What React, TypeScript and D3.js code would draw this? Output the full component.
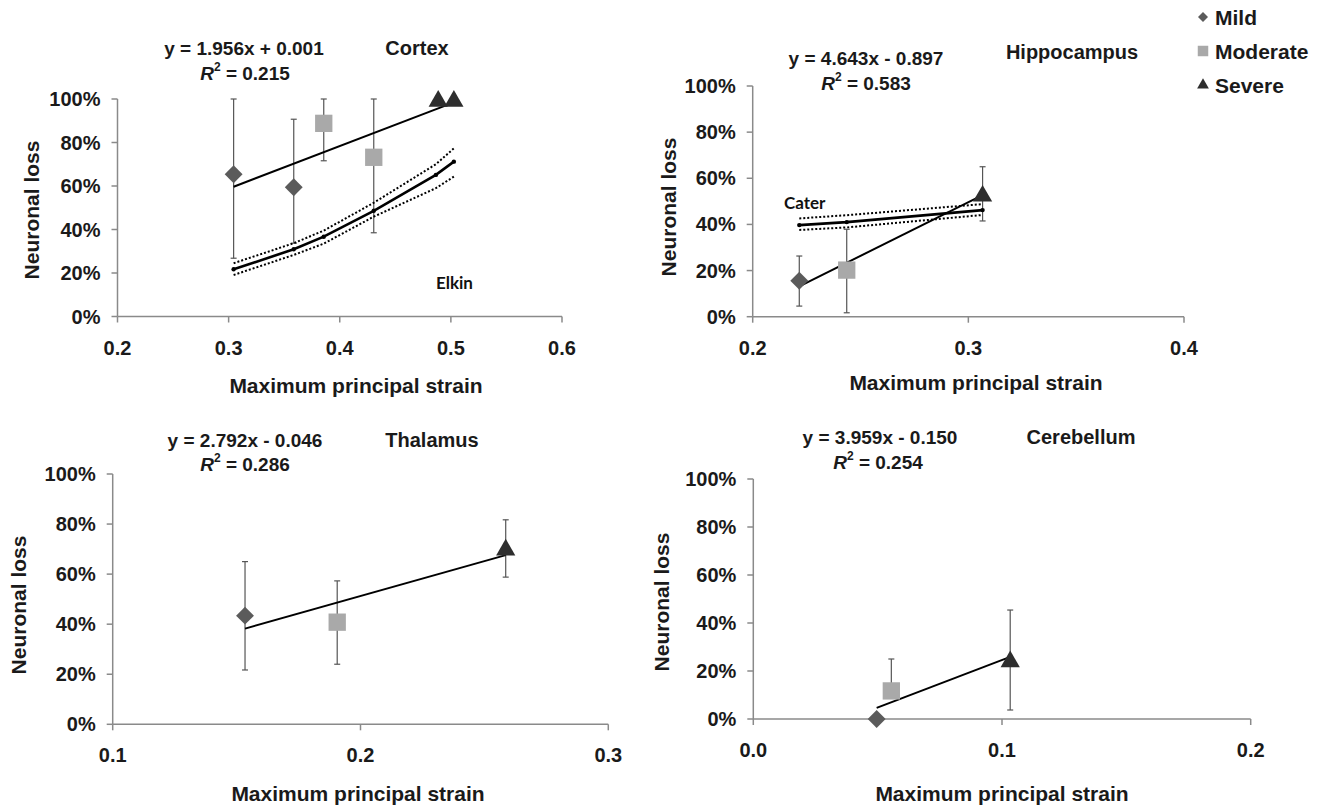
import React from 'react'
import * as d3 from 'd3'

const FONT = '"Liberation Sans", Arial, Helvetica, sans-serif'
const LABEL_FONT = 'Lato, "Open Sans", sans-serif'

const MILD = '#5b5b5b'
const MODERATE = '#a9a9a9'
const SEVERE = '#2e2e2e'

// --- data (x = max principal strain, y = neuronal loss fraction)
const cortexMild = [
  { x: 0.3045, y: 0.654, lo: 0.268, hi: 1.0 },
  { x: 0.3586, y: 0.594, lo: 0.337, hi: 0.907 }
]
const cortexModerate = [
  { x: 0.3856, y: 0.888, lo: 0.716, hi: 1.0 },
  { x: 0.4306, y: 0.732, lo: 0.385, hi: 1.0 }
]
const cortexSevere = [
  { x: 0.4886, y: 0.99 },
  { x: 0.5027, y: 0.99 }
]
const elkinX = [0.3045, 0.3586, 0.3856, 0.4306, 0.4865, 0.5027]
const elkinMean = [0.217, 0.309, 0.367, 0.486, 0.651, 0.712]
const elkinUpper = [0.245, 0.337, 0.395, 0.523, 0.7, 0.773]
const elkinLower = [0.191, 0.283, 0.335, 0.459, 0.59, 0.643]

const hippoMild = [{ x: 0.2216, y: 0.156, lo: 0.046, hi: 0.263 }]
const hippoModerate = [{ x: 0.2436, y: 0.202, lo: 0.017, hi: 0.379 }]
const hippoSevere = [{ x: 0.3066, y: 0.523, lo: 0.415, hi: 0.65 }]
const caterX = [0.2216, 0.2436, 0.3066]
const caterMean = [0.397, 0.41, 0.462]
const caterUpper = [0.426, 0.44, 0.488]
const caterLower = [0.376, 0.387, 0.441]

const thalMild = [{ x: 0.1534, y: 0.434, lo: 0.217, hi: 0.65 }]
const thalModerate = [{ x: 0.1906, y: 0.408, lo: 0.24, hi: 0.573 }]
const thalSevere = [{ x: 0.2586, y: 0.697, lo: 0.588, hi: 0.817 }]

const cereMild = [{ x: 0.0496, y: 0.0 }]
const cereModerate = [{ x: 0.0555, y: 0.117, lo: 0.117, hi: 0.25 }]
const cereSevere = [{ x: 0.1033, y: 0.239, lo: 0.0375, hi: 0.454 }]

const yTicks = [0, 0.2, 0.4, 0.6, 0.8, 1.0]
const cortexXTicks = [0.2, 0.3, 0.4, 0.5, 0.6]
const hippoXTicks = [0.2, 0.3, 0.4]
const thalXTicks = [0.1, 0.2, 0.3]
const cereXTicks = [0.0, 0.1, 0.2]

const legendItems = ['Mild', 'Moderate', 'Severe']

type Pt = { x: number; y: number; lo?: number; hi?: number }
type Band = { x: number[]; mean: number[]; upper: number[]; lower: number[]; label: string; labelPos: [number, number] }

const panels = [
  {
    name: 'Cortex', slope: 1.956, icpt: 0.001, r2: '0.215',
    xDomain: [0.2, 0.6], xRange: [117.5, 562], yRange: [316.5, 99], xTicks: cortexXTicks,
    mild: cortexMild, moderate: cortexModerate, severe: cortexSevere,
    band: { x: elkinX, mean: elkinMean, upper: elkinUpper, lower: elkinLower, label: 'Elkin', labelPos: [436, 289] } as Band,
    eq: [244, 48], r2Pos: [245, 73], namePos: [417, 48], xTitle: [356, 385], yTitle: [31, 210]
  },
  {
    name: 'Hippocampus', slope: 4.643, icpt: -0.897, r2: '0.583',
    xDomain: [0.2, 0.4], xRange: [752.7, 1184], yRange: [316.7, 86], xTicks: hippoXTicks,
    mild: hippoMild, moderate: hippoModerate, severe: hippoSevere,
    band: { x: caterX, mean: caterMean, upper: caterUpper, lower: caterLower, label: 'Cater', labelPos: [784, 209] } as Band,
    eq: [866, 58], r2Pos: [866, 83], namePos: [1072, 52], xTitle: [976, 382], yTitle: [668, 207]
  },
  {
    name: 'Thalamus', slope: 2.792, icpt: -0.046, r2: '0.286',
    xDomain: [0.1, 0.3], xRange: [112.7, 608.3], yRange: [724.3, 474], xTicks: thalXTicks,
    mild: thalMild, moderate: thalModerate, severe: thalSevere, band: null,
    eq: [245, 440], r2Pos: [245, 464], namePos: [432, 440], xTitle: [358, 793], yTitle: [18, 605]
  },
  {
    name: 'Cerebellum', slope: 3.959, icpt: -0.15, r2: '0.254',
    xDomain: [0.0, 0.2], xRange: [753.3, 1250.7], yRange: [719, 479], xTicks: cereXTicks,
    mild: cereMild, moderate: cereModerate, severe: cereSevere, band: null,
    eq: [880, 437], r2Pos: [878, 462], namePos: [1081, 437], xTitle: [1002, 793], yTitle: [661, 602]
  }
]

const diamondPath = d3.symbol().type(d3.symbolSquare).size(160)()
const squarePath = d3.symbol().type(d3.symbolSquare).size(300)()
const trianglePath = d3.symbol().type(d3.symbolTriangle).size(160)()

const fmtEq = (s: number, b: number) =>
  `y = ${s.toFixed(3)}x ${b < 0 ? '-' : '+'} ${Math.abs(b).toFixed(3)}`

function Panel({ p }: { p: any }) {
  const x = d3.scaleLinear().domain(p.xDomain).range(p.xRange)
  const y = d3.scaleLinear().domain([0, 1]).range(p.yRange)
  const x0 = p.xRange[0]
  const y0 = y(0)
  const all: Pt[] = [...p.mild, ...p.moderate, ...p.severe]
  const [fx0, fx1] = d3.extent(all, d => d.x) as [number, number]
  const fit = (v: number) => p.slope * v + p.icpt
  const line = d3.line<[number, number]>().x(d => x(d[0])).y(d => y(d[1]))

  const errBars = (pts: Pt[]) =>
    pts.filter(d => d.lo !== undefined).map((d, i) => (
      <g key={i} stroke="#555" strokeWidth={1.2}>
        <line x1={x(d.x)} x2={x(d.x)} y1={y(d.lo!)} y2={y(d.hi!)} />
        <line x1={x(d.x) - 3} x2={x(d.x) + 3} y1={y(d.hi!)} y2={y(d.hi!)} />
        {d.lo !== d.y && <line x1={x(d.x) - 3} x2={x(d.x) + 3} y1={y(d.lo!)} y2={y(d.lo!)} />}
      </g>
    ))

  const band: Band | null = p.band
  return (
    <g>
      {/* axes */}
      <g stroke="#8a8a8a" strokeWidth={1.5} fill="none">
        <line x1={x0} x2={x0} y1={y(0)} y2={y(1)} />
        <line x1={x0} x2={p.xRange[1]} y1={y0} y2={y0} />
        {yTicks.map(t => <line key={t} x1={x0 - 6} x2={x0} y1={y(t)} y2={y(t)} />)}
        {p.xTicks.map((t: number) => <line key={t} x1={x(t)} x2={x(t)} y1={y0} y2={y0 + 6} />)}
      </g>
      <g fontFamily={FONT} fontWeight="bold" fontSize={20} fill="#1a1a1a">
        {yTicks.map(t => (
          <text key={t} x={x0 - 17} y={y(t)} textAnchor="end" dominantBaseline="central">{d3.format('.0%')(t)}</text>
        ))}
        {p.xTicks.map((t: number) => (
          <text key={t} x={x(t)} y={y0 + 31} textAnchor="middle" dominantBaseline="central">{d3.format('.1f')(t)}</text>
        ))}
        <text x={p.xTitle[0]} y={p.xTitle[1]} textAnchor="middle" dominantBaseline="central" fontSize={21}>Maximum principal strain</text>
        <text transform={`translate(${p.yTitle[0]},${p.yTitle[1]}) rotate(-90)`} textAnchor="middle" dominantBaseline="central" fontSize={21}>Neuronal loss</text>
        <text x={p.eq[0]} y={p.eq[1]} textAnchor="middle" dominantBaseline="central" fontSize={19}>{fmtEq(p.slope, p.icpt)}</text>
        <text x={p.r2Pos[0]} y={p.r2Pos[1]} textAnchor="middle" dominantBaseline="central" fontSize={19}>
          <tspan fontStyle="italic">R</tspan>
          <tspan fontSize={12} dy={-6}>2</tspan>
          <tspan dy={6}> = {p.r2}</tspan>
        </text>
        <text x={p.namePos[0]} y={p.namePos[1]} textAnchor="middle" dominantBaseline="central">{p.name}</text>
      </g>

      {/* error bars */}
      {errBars(p.mild)}
      {errBars(p.moderate)}
      {errBars(p.severe)}

      {/* reference band from literature */}
      {band && (
        <g fill="none" stroke="#000">
          <path d={line(band.x.map((v, i) => [v, band.upper[i]]))!} strokeWidth={2} strokeDasharray="2,2" />
          <path d={line(band.x.map((v, i) => [v, band.lower[i]]))!} strokeWidth={2} strokeDasharray="2,2" />
          <path d={line(band.x.map((v, i) => [v, band.mean[i]]))!} strokeWidth={2.6} />
          {band.x.map((v, i) => <circle key={i} cx={x(v)} cy={y(band.mean[i])} r={2.2} fill="#000" stroke="none" />)}
          <text x={band.labelPos[0]} y={band.labelPos[1]} fontFamily={LABEL_FONT} fontWeight="bold" fontSize={17} fill="#111" stroke="none">{band.label}</text>
        </g>
      )}

      {/* linear fit */}
      <line x1={x(fx0)} x2={x(fx1)} y1={y(fit(fx0))} y2={y(fit(fx1))} stroke="#000" strokeWidth={2} />

      {/* markers */}
      {p.mild.map((d: Pt, i: number) => (
        <path key={'m' + i} d={diamondPath!} transform={`translate(${x(d.x)},${y(d.y)}) rotate(45)`} fill={MILD} />
      ))}
      {p.moderate.map((d: Pt, i: number) => (
        <path key={'o' + i} d={squarePath!} transform={`translate(${x(d.x)},${y(d.y)})`} fill={MODERATE} />
      ))}
      {p.severe.map((d: Pt, i: number) => (
        <path key={'s' + i} d={trianglePath!} transform={`translate(${x(d.x)},${y(d.y)})`} fill={SEVERE} />
      ))}
    </g>
  )
}

function Legend() {
  const rows = d3.scalePoint().domain(legendItems).range([17, 85])
  const shapes: Record<string, JSX.Element> = {
    Mild: <path d={d3.symbol().type(d3.symbolSquare).size(50)()!} transform="rotate(45)" fill={MILD} />,
    Moderate: <path d={d3.symbol().type(d3.symbolSquare).size(110)()!} fill={MODERATE} />,
    Severe: <path d={d3.symbol().type(d3.symbolTriangle).size(60)()!} fill={SEVERE} />
  }
  return (
    <g fontFamily={FONT} fontWeight="bold" fontSize={21} fill="#1a1a1a">
      {legendItems.map(k => (
        <g key={k} transform={`translate(1203,${rows(k)})`}>
          {shapes[k]}
          <text x={12} y={0} dominantBaseline="central">{k}</text>
        </g>
      ))}
    </g>
  )
}

export default function App() {
  return (
    <svg width={1328} height={806} style={{ position: 'absolute', left: 0, top: 0, background: '#fff' }}>
      <rect width={1328} height={806} fill="#fff" />
      {panels.map(p => <Panel key={p.name} p={p} />)}
      <Legend />
    </svg>
  )
}
